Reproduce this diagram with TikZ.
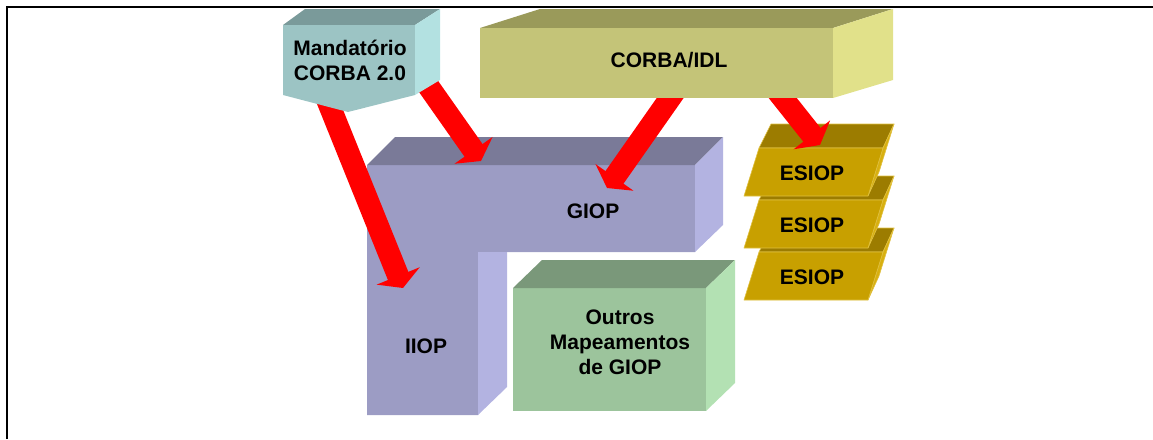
\documentclass[tikz,border=0pt]{standalone}
\usepackage{fontspec}
\setmainfont{Liberation Sans}
\usetikzlibrary{arrows.meta}
\definecolor{mFront}{HTML}{9CC4C4}
\definecolor{mTop}{HTML}{7A9A9A}
\definecolor{mSide}{HTML}{B3E1E1}
\definecolor{cFront}{HTML}{C4C478}
\definecolor{cTop}{HTML}{9A9A5A}
\definecolor{cSide}{HTML}{E1E18A}
\definecolor{gFront}{HTML}{9C9CC4}
\definecolor{gTop}{HTML}{7A7A98}
\definecolor{gSide}{HTML}{B3B3E1}
\definecolor{oFront}{HTML}{9CC49C}
\definecolor{oTop}{HTML}{7A987A}
\definecolor{oSide}{HTML}{B3E1B3}
\definecolor{eFront}{HTML}{C8A000}
\definecolor{eTop}{HTML}{9C7C00}
\definecolor{eSide}{HTML}{D8B010}
\definecolor{eEdge}{HTML}{E0C040}
\begin{document}
\begin{tikzpicture}[x=1pt,y=-1pt,
  lbl/.style={font=\bfseries\fontsize{21}{25}\selectfont, align=center, inner sep=0pt},
  fat/.style={draw=red, line width=22pt, -{Triangle[width=46pt,length=13pt]}},
  esedge/.style={draw=eEdge, line width=0.6pt, line join=round}]
\useasboundingbox (0,0) rectangle (1153,439);
% frame
\draw[line width=2.5pt] (7,439) -- (7,7) -- (1153,7);
% GIOP / IIOP
\fill[gFront] (367,165) -- (695,165) -- (695,252) -- (478,252) -- (478,415) -- (367,415) -- cycle;
\fill[gTop] (367,165) -- (395,137) -- (723,137) -- (695,165) -- cycle;
\fill[gSide] (695,165) -- (723,137) -- (723,225) -- (695,252) -- cycle;
\fill[gSide] (478,252) -- (507,252) -- (507,387) -- (478,415) -- cycle;
\node[lbl] (giop) at (593,211) {GIOP};
\node[lbl] (iiop) at (426,346) {IIOP};
% Outros
\fill[oFront] (513,288) -- (706,288) -- (706,411) -- (513,411) -- cycle;
\fill[oTop] (513,288) -- (542,260) -- (735,260) -- (706,288) -- cycle;
\fill[oSide] (706,288) -- (735,260) -- (735,383) -- (706,411) -- cycle;
\node[lbl] (outros) at (620,342) {Outros\\Mapeamentos\\de GIOP};
% ESIOP stack
\foreach \dy/\nm in {104/esiopc, 52/esiopb, 0/esiopa}{
  \begin{scope}[shift={(0,\dy)}]
    \fill[eTop, esedge] (759,148) -- (771,124) -- (894,124) -- (883,148) -- cycle;
    \fill[eSide, esedge] (883,148) -- (894,124) -- (879,172) -- (868,196) -- cycle;
    \fill[eFront, esedge] (759,148) -- (883,148) -- (868,196) -- (744,196) -- cycle;
    \node[lbl] (\nm) at (812,173) {ESIOP};
  \end{scope}
}
% arrow end points
\coordinate (aS) at (326,97);
\coordinate (aE) at (403,288);
\coordinate (bS) at (424,80);
\coordinate (bE) at (481,161);
\coordinate (cS) at (680,84);
\coordinate (cE) at (607,188);
\coordinate (dS) at (770,82);
\coordinate (dE) at (820,145);
\draw[fat] (aS) -- (aE);
\draw[fat] (bS) -- (bE);
\draw[fat] (cS) -- (cE);
\draw[fat] (dS) -- (dE);
% Mandatorio
\fill[mTop] (283,25) -- (305,9) -- (440,9) -- (415,25) -- cycle;
\fill[mFront] (283,25) -- (415,25) -- (415,95) -- (348,112) -- (283,95) -- cycle;
\fill[mSide] (415,25) -- (440,9) -- (440,80) -- (415,95) -- cycle;
\node[lbl] (mand) at (350,60) {Mandatório\\CORBA 2.0};
% CORBA/IDL
\fill[cTop] (480,28) -- (540,9) -- (893,9) -- (833,28) -- cycle;
\fill[cFront] (480,28) -- (833,28) -- (833,98) -- (480,98) -- cycle;
\fill[cSide] (833,28) -- (893,9) -- (893,80) -- (833,98) -- cycle;
\node[lbl] (idl) at (669,60) {CORBA/IDL};
\end{tikzpicture}
\end{document}
